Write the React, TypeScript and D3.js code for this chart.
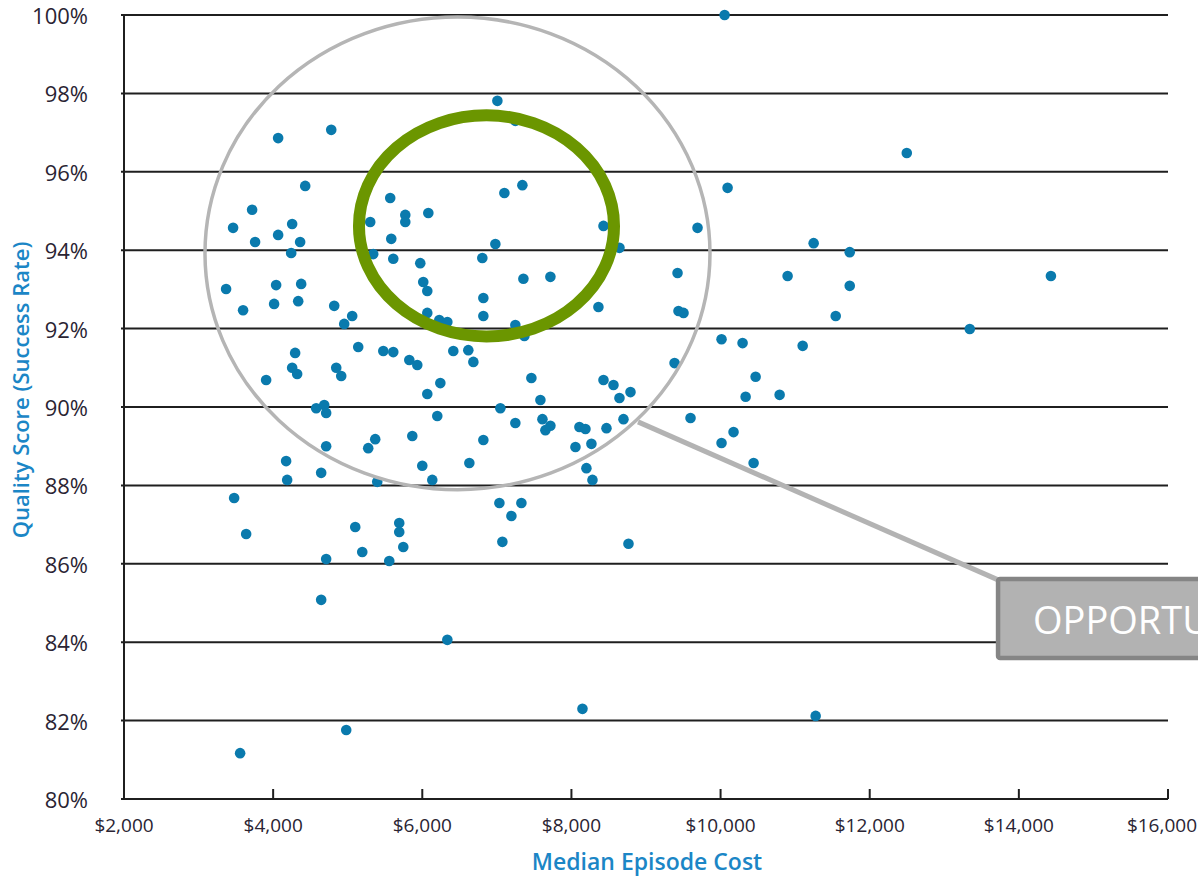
import React from "react";
import * as d3 from "d3";

// Median episode cost ($) and quality score (%) per provider
const costs: number[] = [
  10054, 7007, 7248, 4067, 4779, 12497, 4430, 5570, 7101, 7342, 10094, 3718, 3463, 4255, 5302,
  5772, 5772, 6081, 4067, 3758, 4362, 4242, 5584, 5342, 5611, 5973, 6013, 6067, 6805, 6980,
  7356, 7718, 8430, 8644, 9691, 9423, 10899, 6819, 11248, 11732, 11732, 14430, 3369, 4040, 4376,
  3597, 4013, 4336, 4819, 5060, 4953, 6819, 6067, 6228, 6336, 7248, 7369, 8362, 9436, 9503,
  10013, 10295, 11544, 13342, 11101, 5141, 5477, 5611, 4295, 5826, 5933, 6416, 6617, 6685, 9383,
  4255, 4322, 4846, 4913, 3906, 6242, 6067, 7463, 8430, 8564, 8792, 8644, 10470, 10336, 10792,
  7584, 7047, 4577, 4685, 4711, 6201, 7248, 7611, 7718, 7651, 8107, 8188, 8470, 8698, 9597,
  5866, 6819, 8054, 8268, 10174, 10013, 4711, 5369, 5275, 6000, 6631, 10443, 4174, 4644, 4188,
  5396, 6134, 8201, 8282, 3477, 7034, 7329, 7195, 5101, 5691, 5691, 5745, 3638, 5195, 4711,
  5557, 7074, 8765, 4644, 6336, 8148, 11275, 4980, 3557,
];
const scores: number[] = [
  100.0, 97.81, 97.3, 96.86, 97.07, 96.48, 95.64, 95.33, 95.46, 95.66, 95.59, 95.03, 94.57, 94.67, 94.72,
  94.9, 94.72, 94.95, 94.39, 94.21, 94.21, 93.93, 94.29, 93.9, 93.78, 93.67, 93.19, 92.96, 93.8, 94.16,
  93.27, 93.32, 94.62, 94.06, 94.57, 93.42, 93.34, 92.78, 94.18, 93.95, 93.09, 93.34, 93.01, 93.11, 93.14,
  92.47, 92.63, 92.7, 92.58, 92.32, 92.12, 92.32, 92.4, 92.22, 92.17, 92.09, 91.81, 92.55, 92.45, 92.4,
  91.73, 91.63, 92.32, 91.99, 91.56, 91.53, 91.43, 91.4, 91.38, 91.2, 91.07, 91.43, 91.45, 91.15, 91.12,
  91.0, 90.84, 91.0, 90.79, 90.69, 90.61, 90.33, 90.74, 90.69, 90.56, 90.38, 90.23, 90.77, 90.26, 90.31,
  90.18, 89.97, 89.97, 90.05, 89.85, 89.77, 89.59, 89.69, 89.52, 89.41, 89.49, 89.44, 89.46, 89.69, 89.72,
  89.26, 89.16, 88.98, 89.06, 89.36, 89.08, 89.0, 89.18, 88.95, 88.5, 88.57, 88.57, 88.62, 88.32, 88.14,
  88.09, 88.14, 88.44, 88.14, 87.68, 87.55, 87.55, 87.22, 86.94, 87.04, 86.81, 86.43, 86.76, 86.3, 86.12,
  86.07, 86.56, 86.51, 85.08, 84.06, 82.3, 82.12, 81.76, 81.17,
];

const xTicks: number[] = [2000, 4000, 6000, 8000, 10000, 12000, 14000, 16000];
const yTicks: number[] = [80, 82, 84, 86, 88, 90, 92, 94, 96, 98, 100];

const xTitle = "Median Episode Cost";
const yTitle = "Quality Score (Success Rate)";
const calloutText = "OPPORTUNITY";

// annotation geometry in data units: [centre cost, centre score, radius cost, radius score]
const wideRing: number[] = [6472, 93.92, 3386, 6.03];
const focusRing: number[] = [6861, 94.62, 1710, 2.82];
const calloutFrom: number[] = [8893, 89.62];
const calloutTo: number[] = [13721, 85.59];
const calloutBox: number[] = [13721, 85.61, 83.6];
const calloutLabel: number[] = [14190, 84.21];

const W = 1198;
const H = 877;

export default function App() {
  const x = d3.scaleLinear().domain([2000, 16000]).range([124, 1168]);
  const y = d3.scaleLinear().domain([80, 100]).range([799, 15]);
  const font = "'Open Sans', 'DejaVu Sans', sans-serif";
  const blue = "#1b86c6";
  const pts = costs.map((c, i) => ({ c, s: scores[i] }));
  const fmt = d3.format(",");

  const ellipse = (r: number[]) => ({
    cx: x(r[0]),
    cy: y(r[1]),
    rx: x(r[0] + r[2]) - x(r[0]),
    ry: y(r[1] - r[3]) - y(r[1]),
  });
  const e1 = ellipse(wideRing);
  const e2 = ellipse(focusRing);

  return (
    <svg
      width={W}
      height={H}
      viewBox={`0 0 ${W} ${H}`}
      style={{ position: "absolute", left: 0, top: 0, background: "#fff" }}
    >
      {/* gridlines */}
      {yTicks.map((t) => (
        <line key={"g" + t} x1={x(2000) - 3} x2={x(16000)} y1={y(t)} y2={y(t)} stroke="#1f1f1f" strokeWidth={2} />
      ))}
      {/* y axis */}
      <line x1={x(2000)} x2={x(2000)} y1={y(100)} y2={y(80)} stroke="#1f1f1f" strokeWidth={2} />
      {/* x ticks */}
      {xTicks.slice(1).map((t) => (
        <line key={"t" + t} x1={x(t)} x2={x(t)} y1={y(80)} y2={y(80) - 10} stroke="#1f1f1f" strokeWidth={2} />
      ))}
      {/* y labels */}
      {yTicks.map((t) => (
        <text
          key={"yl" + t}
          x={88}
          y={y(t) + 1}
          dy="0.36em"
          textAnchor="end"
          fontFamily={font}
          fontSize={22}
          fill="#2a2433"
        >
          {t}%
        </text>
      ))}
      {/* x labels (the last one is kept inside the picture, as in the reference) */}
      {xTicks.map((t, i) => {
        const last = i === xTicks.length - 1;
        return (
          <text
            key={"xl" + t}
            x={last ? W - 1 : x(t)}
            y={832}
            textAnchor={last ? "end" : "middle"}
            fontFamily={font}
            fontSize={19}
            fill="#2a2433"
          >
            {"$" + fmt(t)}
          </text>
        );
      })}
      {/* axis titles */}
      <text x={647} y={870} textAnchor="middle" fontFamily={font} fontWeight={600} fontSize={23} fill={blue}>
        {xTitle}
      </text>
      <text
        transform={`translate(29, 390) rotate(-90)`}
        textAnchor="middle"
        fontFamily={font}
        fontWeight={600}
        fontSize={22}
        fill={blue}
      >
        {yTitle}
      </text>
      {/* points */}
      {pts.map((p, i) => (
        <circle key={"p" + i} cx={x(p.c)} cy={y(p.s)} r={5.3} fill="#0a7aad" />
      ))}
      {/* annotations */}
      <ellipse cx={e1.cx} cy={e1.cy} rx={e1.rx} ry={e1.ry} fill="none" stroke="#b5b5b5" strokeWidth={3.5} />
      <ellipse cx={e2.cx} cy={e2.cy} rx={e2.rx} ry={e2.ry} fill="none" stroke="#6b9600" strokeWidth={12} />
      <line
        x1={x(calloutFrom[0])}
        y1={y(calloutFrom[1])}
        x2={x(calloutTo[0])}
        y2={y(calloutTo[1])}
        stroke="#b3b3b3"
        strokeWidth={5}
      />
      <rect
        x={x(calloutBox[0])}
        y={y(calloutBox[1])}
        width={320}
        height={y(calloutBox[2]) - y(calloutBox[1])}
        fill="#b2b2b2"
        stroke="#858585"
        strokeWidth={4.5}
        rx={2}
      />
      <text x={x(calloutLabel[0])} y={y(calloutLabel[1])} fontFamily={font} fontSize={38} fill="#ffffff">
        {calloutText}
      </text>
    </svg>
  );
}
